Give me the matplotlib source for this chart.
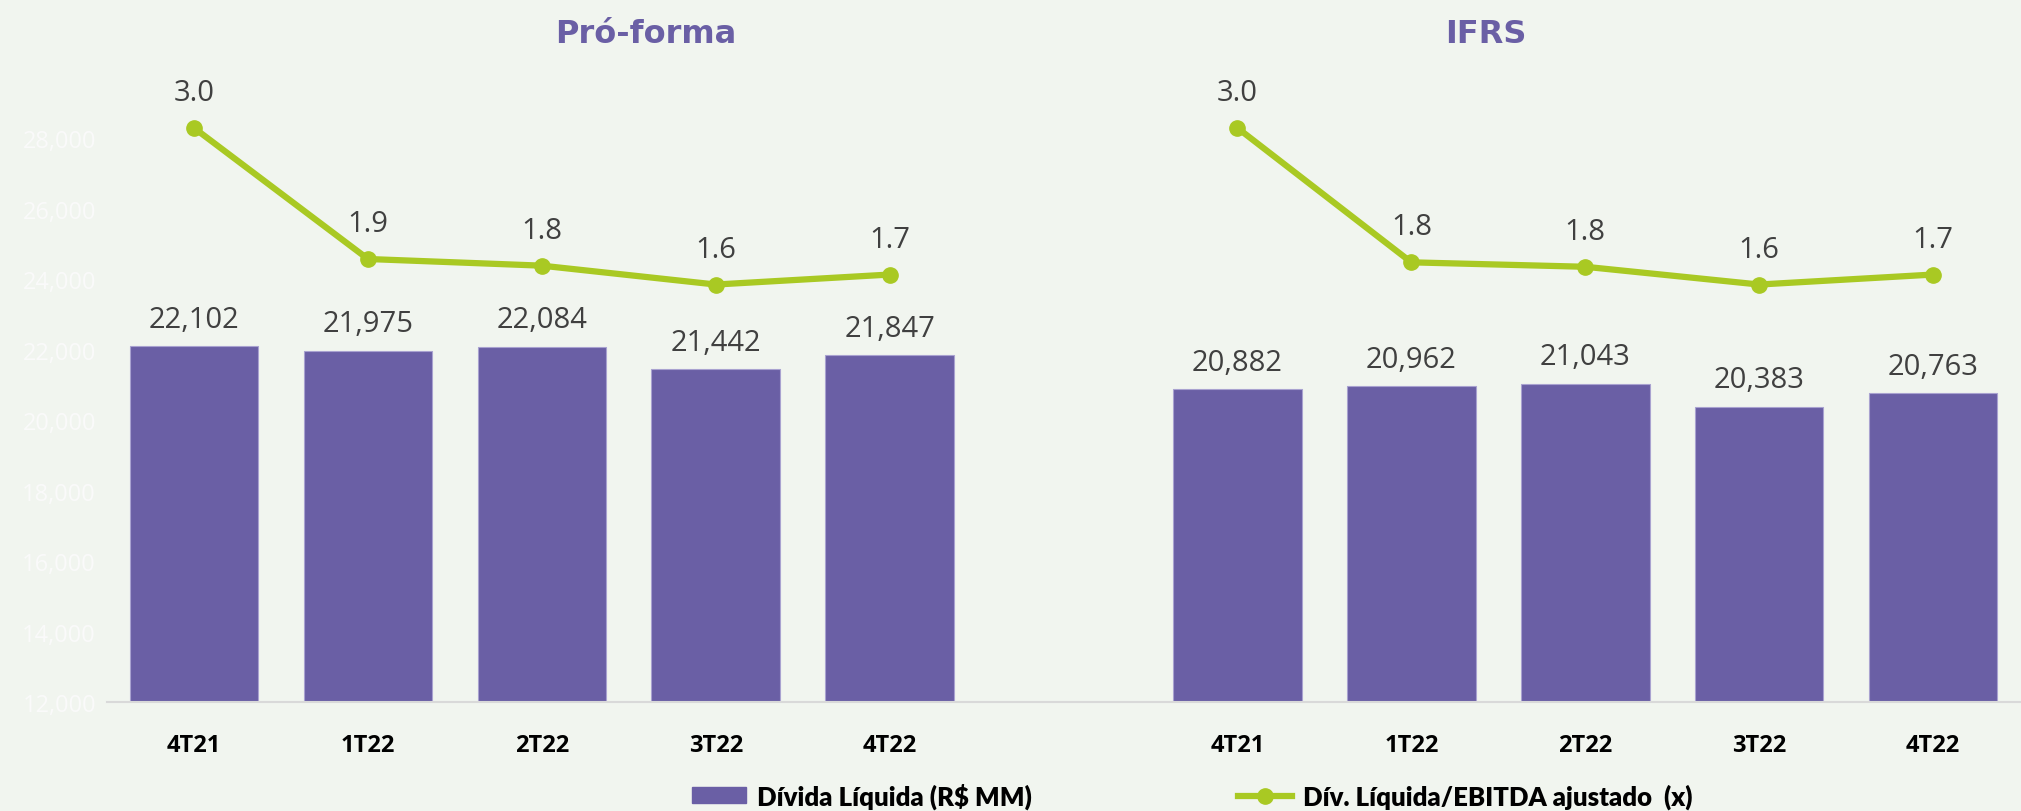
import numpy as np
import matplotlib.pyplot as plt
from matplotlib.lines import Line2D
from matplotlib.patches import Patch

# dados
quarters = ["4T21", "1T22", "2T22", "3T22", "4T22"]
groups = ["Pró-forma", "IFRS"]
divida_proforma = [22102, 21975, 22084, 21442, 21847]
divida_ifrs = [20882, 20962, 21043, 20383, 20763]
alav_proforma = [3.04, 1.86, 1.80, 1.63, 1.72]
alav_ifrs = [3.04, 1.83, 1.79, 1.63, 1.72]

bg = "#F1F5EF"
purple = "#6A5FA5"
green = "#A9C923"
label_col = "#404040"

plt.rcParams['font.family'] = ['Open Sans', 'DejaVu Sans']

fig = plt.figure(figsize=(20.21, 8.12), dpi=100, facecolor=bg)
ax = fig.add_axes([0.053, 0.1342, 0.9465, 0.7808])
ax.set_facecolor(bg)

x_left = np.arange(len(quarters))
x_right = x_left + len(quarters) + 1

bars_l = ax.bar(x_left, divida_proforma, width=0.74, color=purple, edgecolor="#A9A2D0", linewidth=0.8, zorder=2)
bars_r = ax.bar(x_right, divida_ifrs, width=0.74, color=purple, edgecolor="#A9A2D0", linewidth=0.8, zorder=2)
ax.set_ylim(12000, 30000)
ax.set_xlim(-0.5, x_right[-1] + 0.5)
ax.set_yticks(np.arange(12000, 28001, 2000))
ax.set_yticklabels([f"{v:,}" for v in range(12000, 28001, 2000)], color="#FAFAFA", fontsize=17)
ax.tick_params(axis='y', length=0, pad=8)
ax.set_xticks(list(x_left) + list(x_right))
ax.set_xticklabels(quarters + quarters, fontsize=17, fontweight='bold', color='black')
ax.tick_params(axis='x', length=0, pad=22)
for s in ['top', 'right', 'left']:
    ax.spines[s].set_visible(False)
ax.spines['bottom'].set_color("#D9D9D9")
ax.spines['bottom'].set_linewidth(1.5)

for bars, vals in [(bars_l, divida_proforma), (bars_r, divida_ifrs)]:
    ax.bar_label(bars, labels=[f"{v:,}" for v in vals], padding=9, fontsize=21, color=label_col)

ax2 = ax.twinx()
ax2.set_ylim(-2.13, 3.58)
ax2.axis('off')
for xs, vals in [(x_left, alav_proforma), (x_right, alav_ifrs)]:
    ax2.plot(xs, vals, color=green, lw=4.5, marker='o', markersize=11, zorder=3)
    for xi, v in zip(xs, vals):
        ax2.annotate(f"{v:.1f}", (xi, v), xytext=(0, 15), textcoords='offset points',
                     ha='center', va='bottom', fontsize=21, color=label_col)

# titulos dos grupos
for xpos, name in zip([2.6, 7.43], groups):
    ax.text(xpos, 1.054, name, transform=ax.get_xaxis_transform(), ha='center', va='center',
            fontsize=23, fontweight='bold', color=purple, family='DejaVu Sans')

handles = [Patch(facecolor=purple, edgecolor=purple),
           Line2D([0], [0], color=green, lw=4.5, marker='o', markersize=11)]
leg = fig.legend(handles, ["Dívida Líquida (R$ MM)", "Dív. Líquida/EBITDA ajustado  (x)"],
                 loc='center', bbox_to_anchor=(0.59, 0.019), ncol=2, frameon=False,
                 prop={'family': 'Lato', 'weight': 'heavy', 'size': 18.5},
                 handlelength=2.1, handleheight=0.6, columnspacing=8.0, handletextpad=0.45)

fig.savefig("out.png", dpi=100, facecolor=bg)
